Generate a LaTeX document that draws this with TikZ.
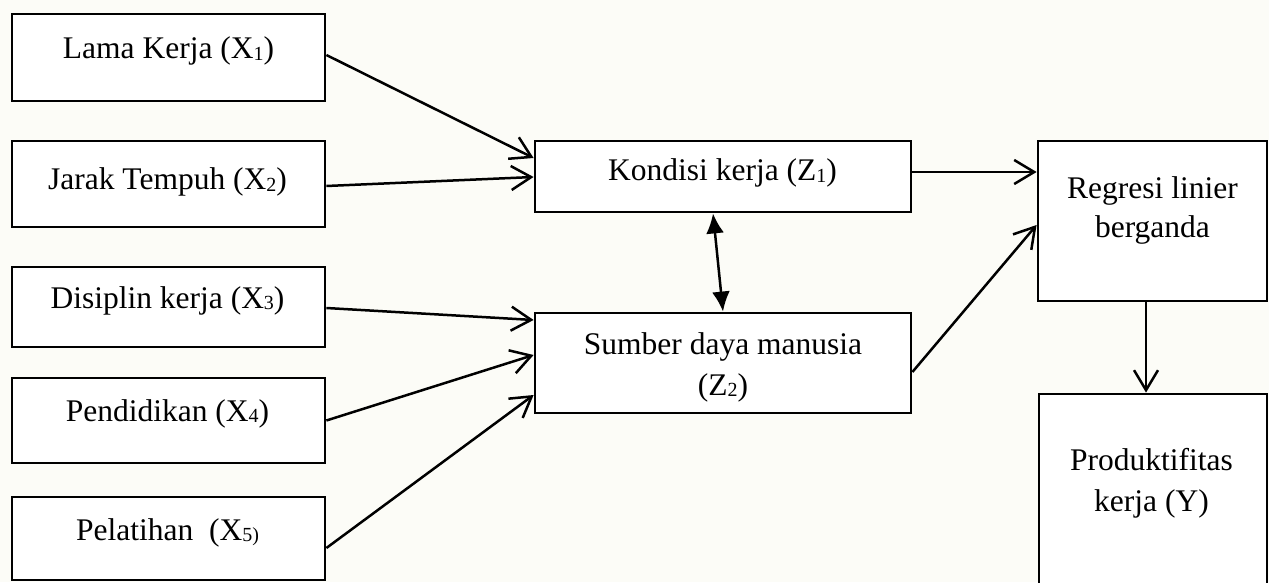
\documentclass[tikz,border=0pt]{standalone}
\usepackage{fontspec}
\setmainfont{Liberation Serif}
\usetikzlibrary{arrows.meta}
\definecolor{bgc}{RGB}{252,252,247}
\newcommand\sbx[1]{\raisebox{-1.5pt}{\fontsize{20}{20}\selectfont #1}}
\begin{document}
\begin{tikzpicture}[x=1pt,y=1pt,
  box/.style={draw, line width=2.8pt, fill=white, inner sep=0pt},
  txt/.style={anchor=base, inner sep=0pt, font=\fontsize{31.5}{40}\selectfont},
  arr/.style={line width=2.5pt, -{Straight Barb[length=20pt,width=24pt,line width=2.5pt]}},
  darr/.style={line width=2.5pt, {Latex[length=20pt,width=18pt]}-{Latex[length=20pt,width=18pt]}}
]
\fill[bgc] (0,0) rectangle (1269,582);
\useasboundingbox (0,0) rectangle (1269,582);

% boxes
\node[box, minimum width=313pt, minimum height=87pt] (x1) at (168.5,524.5) {};
\node[box, minimum width=313pt, minimum height=86pt] (x2) at (168.5,398) {};
\node[box, minimum width=313pt, minimum height=80pt] (x3) at (168.5,275) {};
\node[box, minimum width=313pt, minimum height=85pt] (x4) at (168.5,161.5) {};
\node[box, minimum width=313pt, minimum height=83pt] (x5) at (168.5,43.5) {};
\node[box, minimum width=376pt, minimum height=71pt] (z1) at (723,405.5) {};
\node[box, minimum width=376pt, minimum height=100pt] (z2) at (723,219) {};
\node[box, minimum width=229pt, minimum height=160pt] (reg) at (1152.5,361) {};
\node[box, minimum width=228pt, minimum height=200pt] (prod) at (1153,88) {};

% texts
\node[txt] (t1) at (168.5,523) {Lama Kerja (X\sbx{1})};
\node[txt] (t2) at (167.5,392) {Jarak Tempuh (X\sbx{2})};
\node[txt] (t3) at (167.5,274) {Disiplin kerja (X\sbx{3})};
\node[txt] (t4) at (167.5,161) {Pendidikan (X\sbx{4})};
\node[txt] (t5) at (167.5,42) {Pelatihan\hspace{0.25em} (X\sbx{5)}};
\node[txt] (tz1) at (722.5,401) {Kondisi kerja (Z\sbx{1})};
\node[txt] (tz2a) at (723,228) {Sumber daya manusia};
\node[txt] (tz2b) at (723,187) {(Z\sbx{2})};
\node[txt] (tra) at (1152.5,383) {Regresi linier};
\node[txt] (trb) at (1152.5,344) {berganda};
\node[txt] (tpa) at (1151.5,112) {Produktifitas};
\node[txt] (tpb) at (1151.5,71) {kerja (Y)};

% connectors
\draw[arr] ([yshift=2.5pt]x1.east) -- ([yshift=18.5pt]z1.west);
\draw[arr] ([yshift=-2pt]x2.east) -- ([yshift=-0.5pt]z1.west);
\draw[arr] ([yshift=-1pt]x3.east) -- ([yshift=43pt]z2.west);
\draw[arr] (x4.east) -- ([yshift=8pt]z2.west);
\draw[arr] ([yshift=-9.5pt]x5.east) -- ([yshift=-32pt]z2.west);
\draw[darr] ([xshift=-10pt]z1.south) -- (z2.north);
\draw[arr] ([yshift=4.5pt]z1.east) -- ([yshift=49pt]reg.west);
\draw[arr] ([yshift=-9pt]z2.east) -- ([yshift=-4pt]reg.west);
\draw[arr] ([xshift=-6.5pt]reg.south) -- ([xshift=-7pt]prod.north);
\end{tikzpicture}
\end{document}
